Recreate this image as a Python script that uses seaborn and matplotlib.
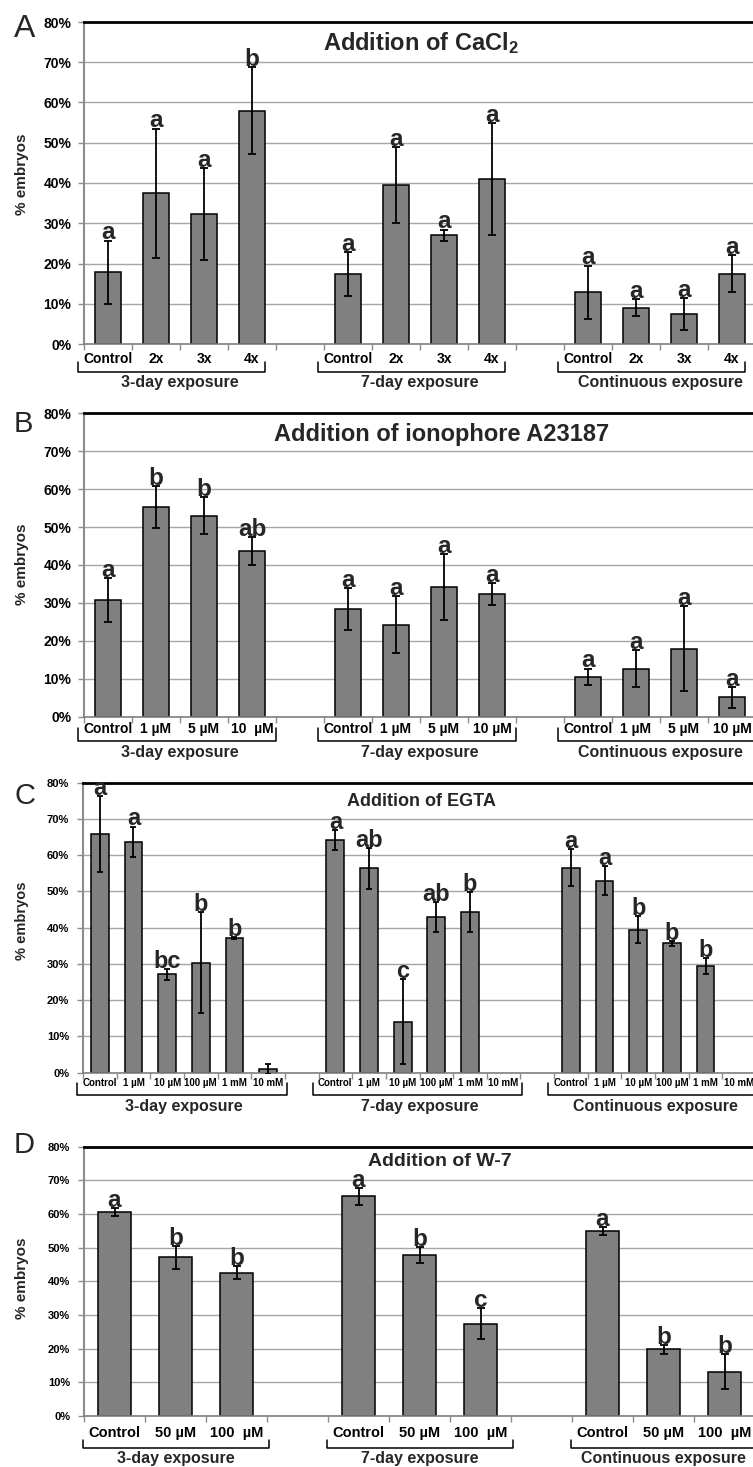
import numpy as np
import pandas as pd
import matplotlib
matplotlib.use("Agg")
import matplotlib.pyplot as plt
import seaborn as sns
from matplotlib.ticker import FuncFormatter

sns.set_theme(style="ticks")
plt.rcParams['font.family'] = ['Liberation Sans', 'DejaVu Sans']
plt.rcParams['mathtext.fontset'] = 'custom'
plt.rcParams['mathtext.rm'] = 'Liberation Sans:bold'
plt.rcParams['mathtext.bf'] = 'Liberation Sans:bold'
plt.rcParams['mathtext.it'] = 'Liberation Sans:bold'

# ---------------- data ----------------
groups = ["3-day exposure", "7-day exposure", "Continuous exposure"]

# Panel A: CaCl2
a_conds = [["Control", "2x", "3x", "4x"]] * 3
a_3day = [17.8, 37.4, 32.3, 57.9]
a_3day_sd = [7.9, 16.1, 11.4, 10.8]
a_7day = [17.4, 39.5, 27.0, 41.0]
a_7day_sd = [5.5, 9.5, 1.4, 13.8]
a_cont = [12.9, 9.0, 7.5, 17.4]
a_cont_sd = [6.6, 2.1, 4.0, 4.6]
a_letters = [["a", "a", "a", "b"], ["a", "a", "a", "a"], ["a", "a", "a", "a"]]

# Panel B: ionophore A23187
b_conds = [["Control", "1 µM", "5 µM", "10  µM"],
           ["Control", "1 µM", "5 µM", "10 µM"],
           ["Control", "1 µM", "5 µM", "10 µM"]]
b_3day = [30.8, 55.3, 53.0, 43.6]
b_3day_sd = [5.7, 5.6, 4.8, 3.7]
b_7day = [28.4, 24.3, 34.2, 32.4]
b_7day_sd = [5.6, 7.5, 8.6, 2.9]
b_cont = [10.5, 12.7, 17.9, 5.1]
b_cont_sd = [2.2, 4.8, 11.2, 2.7]
b_letters = [["a", "b", "b", "ab"], ["a", "a", "a", "a"], ["a", "a", "a", "a"]]

# Panel C: EGTA
c_conds = [["Control", "1 µM", "10 µM", "100 µM", "1 mM", "10 mM"]] * 3
c_3day = [65.8, 63.7, 27.1, 30.4, 37.2, 1.0]
c_3day_sd = [10.4, 4.2, 1.4, 14.0, 0.3, 1.3]
c_7day = [64.2, 56.4, 14.1, 43.0, 44.3, 0.0]
c_7day_sd = [2.8, 5.6, 11.7, 4.1, 5.6, 0.0]
c_cont = [56.6, 52.9, 39.4, 35.7, 29.4, 0.0]
c_cont_sd = [5.2, 4.0, 3.7, 0.7, 2.2, 0.0]
c_letters = [["a", "a", "bc", "b", "b", ""], ["a", "ab", "c", "ab", "b", ""],
             ["a", "a", "b", "b", "b", ""]]

# Panel D: W-7
d_conds = [["Control", "50 µM", "100  µM"]] * 3
d_3day = [60.6, 47.1, 42.6]
d_3day_sd = [1.25, 3.3, 1.9]
d_7day = [65.3, 47.9, 27.4]
d_7day_sd = [2.5, 2.4, 4.6]
d_cont = [55.0, 19.8, 13.2]
d_cont_sd = [1.25, 1.25, 5.1]
d_letters = [["a", "b", "b"], ["a", "b", "c"], ["a", "b", "b"]]

# ---------------- figure ----------------
W, H = 753, 1467
fig = plt.figure(figsize=(W / 100, H / 100), dpi=100)
fig.patch.set_facecolor("white")


def fx(px):
    return px / W


def fy(py):
    return 1 - py / H


def draw_panel(cfg, conds, vals, sds, lets):
    left, right, top, bottom = cfg["rect"]
    ah = bottom - top
    ax = fig.add_axes([fx(left), fy(bottom), (right - left) / W, ah / H])
    n = len(conds[0])
    order, rows, starts = [], [], []
    for g in range(3):
        starts.append(len(order))
        for i in range(n):
            key = f"g{g}_{i}"
            order.append(key)
            rows.append(dict(slot=key, value=vals[g][i], sd=sds[g][i],
                             letter=lets[g][i], label=conds[g][i]))
        if g < 2:
            order.append(f"gap{g}")
    df = pd.DataFrame(rows)
    df["pos"] = [order.index(k) for k in df["slot"]]
    pdf = df[df["value"] > 0]
    sns.barplot(data=pdf, x="slot", y="value", order=order, color="#808080",
                saturation=1, edgecolor="black", linewidth=1.1,
                width=cfg["bw"], errorbar=None, ax=ax, zorder=2)
    edf = pdf[pdf["sd"] > 0]
    ax.errorbar(edf["pos"], edf["value"], yerr=edf["sd"], fmt="none",
                ecolor="black", elinewidth=1.3, capsize=cfg["cap"],
                capthick=1.3, zorder=3)
    for _, r in pdf.iterrows():
        if r["letter"]:
            ax.text(r["pos"], r["value"] + r["sd"] + 0.3, r["letter"], ha="center",
                    va="baseline", fontsize=cfg["let_fs"], fontweight="bold",
                    zorder=4)
    N = len(order)
    ax.set_xlim(-0.5, N - 0.5)
    ax.set_ylim(0, 80)
    ax.set_yticks(range(0, 81, 10))
    ax.yaxis.set_major_formatter(FuncFormatter(lambda v, p: f"{int(v)}%"))
    ax.set_xticks(list(df["pos"]), list(df["label"]))
    ax.set_xticks(np.arange(-0.5, N), minor=True)
    ax.tick_params(axis="x", which="major", length=0, pad=cfg["xpad"],
                   labelsize=cfg["xfs"], bottom=True)
    ax.tick_params(axis="x", which="minor", length=4, color="#8c8c8c",
                   width=1, direction="out", bottom=True)
    ax.tick_params(axis="y", length=4, color="#8c8c8c", width=1,
                   pad=cfg["ypad"], labelsize=cfg["yfs"], left=True)
    for lbl in ax.get_xticklabels() + ax.get_yticklabels():
        lbl.set_fontweight("bold")
        lbl.set_color("black")
    ax.set_xlabel("")
    ax.set_ylabel("")
    ax.yaxis.grid(True, color="#a6a6a6", lw=1)
    ax.xaxis.grid(False)
    ax.set_axisbelow(True)
    ax.spines["top"].set_color("black")
    ax.spines["top"].set_linewidth(2)
    ax.spines["left"].set_color("#8c8c8c")
    ax.spines["left"].set_linewidth(1.5)
    ax.spines["bottom"].set_color("#808080")
    ax.spines["bottom"].set_linewidth(1.2)
    ax.spines["right"].set_visible(False)
    ax.set_facecolor("white")

    tr = ax.get_xaxis_transform()
    b0, b1 = cfg["br_y"]
    for g, s in enumerate(starts):
        x0 = s + cfg["br_x"][0]
        x1 = s + cfg["br_x"][1]
        ax.plot([x0, x0, x1, x1], [-b0 / ah, -b1 / ah, -b1 / ah, -b0 / ah],
                transform=tr, clip_on=False, color="black", lw=1.1)
        ax.text(s + (n - 1) / 2, -cfg["gl_y"] / ah, groups[g], transform=tr,
                ha="center", va="center", fontsize=11.5, fontweight="bold")

    fig.text(fx(cfg["title_xy"][0]), fy(cfg["title_xy"][1]), cfg["title"],
             ha="center", va="center", fontsize=cfg["title_fs"],
             fontweight="bold")
    fig.text(fx(22), fy(cfg["ylab_y"]), "% embryos", rotation=90, ha="center",
             va="center", fontsize=cfg["ylab_fs"], fontweight="bold")
    fig.text(fx(14), fy(cfg["letter_y"]), cfg["letter"], ha="left",
             va="baseline", fontsize=cfg["letter_fs"])
    return ax


cfgA = dict(rect=(84, 756, 22, 344), bw=0.55, cap=3, let_fs=17.5, xpad=5.5,
            xfs=10, ypad=5, yfs=10, br_y=(18, 28), br_x=(-0.625, 3.27),
            gl_y=39, title="Addition of CaCl$_2$", title_xy=(421, 43),
            title_fs=17, ylab_y=174, ylab_fs=11, letter="A", letter_y=37,
            letter_fs=23)
cfgB = dict(rect=(84, 756, 413.3, 716.7), bw=0.55, cap=3, let_fs=17.5, xpad=3.5,
            xfs=10, ypad=5, yfs=10, br_y=(11.3, 24.3), br_x=(-0.625, 3.51),
            gl_y=35.3, title="Addition of ionophore A23187", title_xy=(442, 434),
            title_fs=17, ylab_y=564, ylab_fs=11, letter="B", letter_y=432,
            letter_fs=21)
cfgC = dict(rect=(83, 756, 782.7, 1072.7), bw=0.53, cap=2.5, let_fs=17,
            xpad=4, xfs=7, ypad=6, yfs=8, br_y=(10.3, 22.3),
            br_x=(-0.67, 5.55), gl_y=34.3, title="Addition of EGTA",
            title_xy=(421, 802), title_fs=13, ylab_y=921, ylab_fs=10.5,
            letter="C", letter_y=804, letter_fs=21)
cfgD = dict(rect=(84, 755, 1146.7, 1416), bw=0.54, cap=3, let_fs=17.5, xpad=7.5,
            xfs=10.5, ypad=6, yfs=8, br_y=(24, 32), br_x=(-0.52, 2.54),
            gl_y=42, title="Addition of W-7", title_xy=(440, 1162),
            title_fs=14, ylab_y=1278, ylab_fs=11, letter="D", letter_y=1153,
            letter_fs=21)

draw_panel(cfgA, a_conds, [a_3day, a_7day, a_cont],
           [a_3day_sd, a_7day_sd, a_cont_sd], a_letters)
draw_panel(cfgB, b_conds, [b_3day, b_7day, b_cont],
           [b_3day_sd, b_7day_sd, b_cont_sd], b_letters)
draw_panel(cfgC, c_conds, [c_3day, c_7day, c_cont],
           [c_3day_sd, c_7day_sd, c_cont_sd], c_letters)
draw_panel(cfgD, d_conds, [d_3day, d_7day, d_cont],
           [d_3day_sd, d_7day_sd, d_cont_sd], d_letters)

fig.savefig("out.png", dpi=100, facecolor="white")
